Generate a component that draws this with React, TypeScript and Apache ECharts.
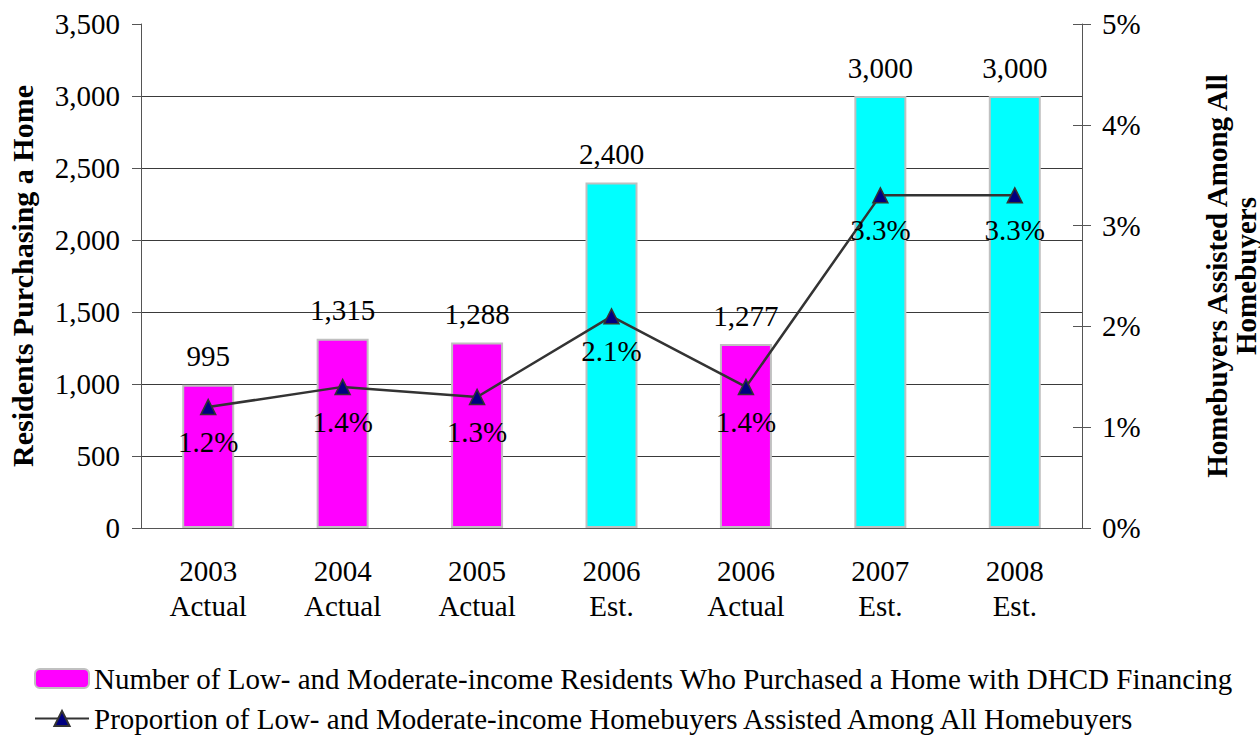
import React, { useEffect, useRef } from "react";
import * as echarts from "echarts";

const categories = ["2003\nActual", "2004\nActual", "2005\nActual", "2006\nEst.", "2006\nActual", "2007\nEst.", "2008\nEst."];
const residents = [995, 1315, 1288, 2400, 1277, 3000, 3000];
const isEstimate = [false, false, false, true, false, true, true];
const proportion = [1.2, 1.4, 1.3, 2.1, 1.4, 3.3, 3.3];
const barName = "Number of Low- and Moderate-income Residents Who Purchased a Home with DHCD Financing";
const lineName = "Proportion of Low- and Moderate-income Homebuyers Assisted Among All Homebuyers";
const leftAxisName = "Residents Purchasing a Home";
const rightAxisName = "Homebuyers Assisted Among All\nHomebuyers";

const FONT = "'Liberation Serif', 'Times New Roman', serif";
const FS = 29;

export default function App() {
  const ref = useRef<HTMLDivElement>(null);
  useEffect(() => {
    if (!ref.current) return;
    const chart = echarts.init(ref.current, undefined, { renderer: "svg" });
    const option: any = {
      animation: false,
      textStyle: { fontFamily: FONT, color: "#000" },
      grid: { left: 141, right: 178, top: 24, bottom: 208, containLabel: false, outerBoundsMode: "none" },
      legend: {
        orient: "vertical",
        left: 29,
        top: 659,
        height: 120,
        itemWidth: 54,
        itemHeight: 19,
        itemGap: 11,
        textStyle: { fontFamily: FONT, fontSize: FS, color: "#000" },
        data: [
          { name: barName, itemStyle: { color: "#FF00FF", borderColor: "#C0C0C0", borderWidth: 2 } },
          { name: lineName },
        ],
      },
      xAxis: {
        type: "category",
        data: categories,
        axisLine: { lineStyle: { color: "#555", width: 1 } },
        axisTick: { length: 9, lineStyle: { color: "#555" } },
        axisLabel: { fontFamily: FONT, fontSize: FS, color: "#000", margin: 25, lineHeight: 35 },
      },
      yAxis: [
        {
          type: "value",
          min: 0,
          max: 3500,
          interval: 500,
          name: leftAxisName,
          nameLocation: "middle",
          nameGap: 104,
          nameRotate: 90,
          nameTextStyle: { fontFamily: FONT, fontSize: 30, fontWeight: "bold", color: "#000" },
          axisLine: { show: true, lineStyle: { color: "#555" } },
          axisTick: { show: true, length: 9, lineStyle: { color: "#555" } },
          axisLabel: {
            fontFamily: FONT,
            fontSize: FS,
            color: "#000",
            margin: 21,
            formatter: (v: number) => v.toLocaleString("en-US"),
          },
          splitLine: { show: true, showMaxLine: false, showMinLine: false, lineStyle: { color: "#3a3a3a", width: 1 } },
        },
        {
          type: "value",
          min: 0,
          max: 5,
          interval: 1,
          position: "right",
          name: rightAxisName,
          nameLocation: "middle",
          nameGap: 120,
          nameRotate: 90,
          nameTextStyle: { fontFamily: FONT, fontSize: FS, fontWeight: "bold", color: "#000", lineHeight: 29 },
          axisLine: { show: true, lineStyle: { color: "#555" } },
          axisTick: { show: true, length: 9, lineStyle: { color: "#555" } },
          axisLabel: { fontFamily: FONT, fontSize: FS, color: "#000", margin: 20, formatter: "{value}%" },
          splitLine: { show: false },
        },
        {
          type: "value",
          min: 0,
          max: 5,
          interval: 1,
          position: "right",
          axisLine: { show: false },
          axisTick: { show: true, inside: true, length: 9, lineStyle: { color: "#555" } },
          axisLabel: { show: false },
          splitLine: { show: false },
        },
      ],
      series: [
        {
          name: barName,
          type: "bar",
          yAxisIndex: 0,
          barWidth: 52,
          data: residents.map((v, i) => ({
            value: v,
            itemStyle: {
              color: isEstimate[i] ? "#00FFFF" : "#FF00FF",
              borderColor: "#C0C0C0",
              borderWidth: 2,
            },
          })),
          label: {
            show: true,
            position: "top",
            distance: 14,
            fontFamily: FONT,
            fontSize: FS,
            color: "#000",
            formatter: (p: any) => Number(p.value).toLocaleString("en-US"),
          },
        },
        {
          name: lineName,
          type: "line",
          yAxisIndex: 1,
          data: proportion,
          symbol: "triangle",
          symbolSize: 15,
          lineStyle: { color: "#333", width: 2.5 },
          itemStyle: { color: "#000080", borderColor: "#333", borderWidth: 1.5 },
          label: {
            show: true,
            position: "bottom",
            distance: 12,
            fontFamily: FONT,
            fontSize: FS,
            color: "#000",
            formatter: (p: any) => `${p.value}%`,
          },
          z: 5,
        },
      ],
    };
    chart.setOption(option);
    return () => chart.dispose();
  }, []);
  return <div ref={ref} style={{ position: "absolute", left: 0, top: 0, width: 1260, height: 736 }} />;
}
